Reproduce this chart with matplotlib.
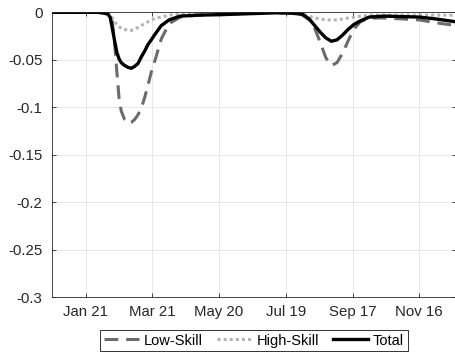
import matplotlib
matplotlib.use("Agg")
import matplotlib.pyplot as plt
import matplotlib.dates as mdates
import pandas as pd

plt.rcParams["font.family"] = ["Liberation Sans", "DejaVu Sans"]
plt.rcParams["font.size"] = 10.8

# values (daily-ish samples, 2020)
DATES = ["2019-12-22", "2020-01-15", "2020-02-01", "2020-02-07", "2020-02-10",
         "2020-02-12", "2020-02-14", "2020-02-16", "2020-02-18", "2020-02-20",
         "2020-02-22", "2020-02-25", "2020-02-28", "2020-03-02", "2020-03-05",
         "2020-03-08", "2020-03-11", "2020-03-14", "2020-03-17", "2020-03-20",
         "2020-03-24", "2020-03-29", "2020-04-05", "2020-04-15",
         "2020-05-01", "2020-05-20", "2020-06-15", "2020-07-10", "2020-07-25", "2020-08-03",
         "2020-08-09", "2020-08-14", "2020-08-19", "2020-08-24", "2020-08-29",
         "2020-09-03", "2020-09-08", "2020-09-13", "2020-09-18", "2020-09-24",
         "2020-10-02", "2020-10-15", "2020-11-01", "2020-11-16", "2020-12-01", "2020-12-19"]

LOW_SKILL = [0, 0, 0, 0, 0,
             -0.002, -0.010, -0.032, -0.062, -0.090, -0.104, -0.113, -0.117, -0.116, -0.113,
             -0.108, -0.101, -0.090, -0.077, -0.063, -0.048, -0.028, -0.012, -0.005,
             -0.003, -0.002, -0.001, 0.0005, 0, -0.003,
             -0.008, -0.017, -0.032, -0.048, -0.056, -0.053, -0.043, -0.030, -0.018, -0.010,
             -0.006, -0.006, -0.007, -0.008, -0.011, -0.014]

HIGH_SKILL = [0, 0, 0, 0, -0.001,
              -0.002, -0.006, -0.010, -0.013, -0.015, -0.017, -0.018, -0.019, -0.019, -0.018,
              -0.016, -0.014, -0.012, -0.010, -0.008, -0.006, -0.005, -0.003, -0.002,
              -0.001, -0.001, -0.0005, -0.0005, -0.001, -0.002,
              -0.004, -0.006, -0.007, -0.008, -0.008, -0.008, -0.007, -0.006, -0.005, -0.004,
              -0.003, -0.003, -0.003, -0.003, -0.003, -0.003]

TOTAL = [0, 0, 0, -0.001, -0.002,
         -0.005, -0.017, -0.030, -0.042, -0.049, -0.053, -0.056, -0.058, -0.059, -0.057,
         -0.054, -0.047, -0.041, -0.034, -0.029, -0.022, -0.014, -0.008, -0.004,
         -0.003, -0.0025, -0.0015, -0.0005, -0.001, -0.002,
         -0.007, -0.014, -0.021, -0.027, -0.0305, -0.029, -0.024, -0.018, -0.013, -0.009,
         -0.005, -0.004, -0.0045, -0.005, -0.007, -0.010]

XTICKS = ["2020-01-21", "2020-03-21", "2020-05-20", "2020-07-19", "2020-09-17", "2020-11-16"]
YTICKS = [0, -0.05, -0.1, -0.15, -0.2, -0.25, -0.3]
YLABELS = ["0", "-0.05", "-0.1", "-0.15", "-0.2", "-0.25", "-0.3"]

dates = pd.to_datetime(DATES)

fig = plt.figure(figsize=(4.56, 3.53), dpi=100)
ax = fig.add_axes([0.1147, 0.1586, 0.8853, 0.8065])

ax.plot(dates, LOW_SKILL, color="#6b6b6b", lw=2.2, dashes=(4.5, 2.6), label="Low-Skill")
ax.plot(dates, HIGH_SKILL, color="#b4b4b4", lw=2.2, dashes=(1, 1), label="High-Skill")
ax.plot(dates, TOTAL, color="black", lw=2.4, label="Total")

ax.set_xlim(pd.Timestamp("2019-12-22"), pd.Timestamp("2020-12-19"))
ax.set_ylim(-0.3, 0)
ax.set_xticks(pd.to_datetime(XTICKS))
ax.xaxis.set_major_formatter(mdates.DateFormatter("%b %d"))
ax.set_yticks(YTICKS)
ax.set_yticklabels(YLABELS)

ax.grid(True, color="#e3e3e3", lw=0.6)
ax.set_axisbelow(True)
ax.tick_params(direction="in", length=3, width=0.6, color="#262626",
               top=True, right=True, labelsize=10.8, labelcolor="#262626")
ax.tick_params(axis="x", pad=6)
ax.tick_params(axis="y", pad=7)
for sp in ax.spines.values():
    sp.set_color("#262626")
    sp.set_linewidth(0.6)

leg = fig.legend(loc="center", bbox_to_anchor=(0.557, 0.0354), ncol=3, frameon=True,
                 fancybox=False, edgecolor="black", fontsize=10.5, handlelength=2.4,
                 handletextpad=0.3, columnspacing=1.0, borderpad=0.25)
leg.get_frame().set_linewidth(0.7)

fig.savefig("out.png", dpi=100, facecolor="white")
